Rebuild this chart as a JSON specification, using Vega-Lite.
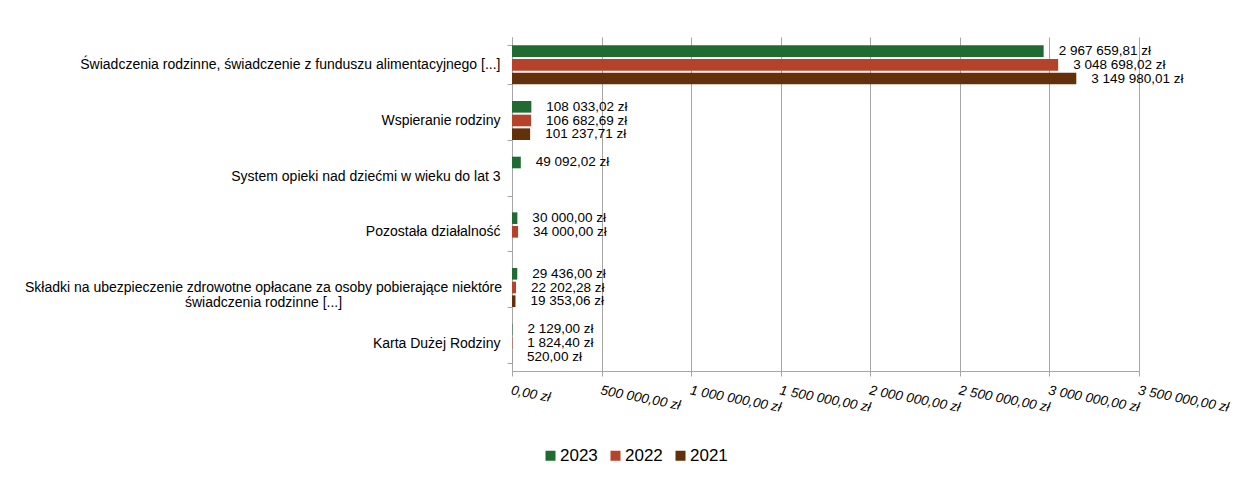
{
  "$schema": "https://vega.github.io/schema/vega-lite/v6.json",
  "width": 627,
  "height": 334,
  "autosize": {"type": "none"},
  "padding": {"left": 512, "top": 37, "right": 116, "bottom": 110},
  "config": {
    "locale": {"number": {"decimal": ",", "thousands": " ", "grouping": [3], "currency": ["", " zł"]}},
    "font": "Liberation Sans",
    "view": {"stroke": null},
    "text": {"font": "Liberation Sans"}
  },
  "data": {
    "values": [
      {"kategoria": "Świadczenia rodzinne, świadczenie z funduszu alimentacyjnego [...]", "rok": "2023", "wartosc": 2967659.81},
      {"kategoria": "Świadczenia rodzinne, świadczenie z funduszu alimentacyjnego [...]", "rok": "2022", "wartosc": 3048698.02},
      {"kategoria": "Świadczenia rodzinne, świadczenie z funduszu alimentacyjnego [...]", "rok": "2021", "wartosc": 3149980.01},
      {"kategoria": "Wspieranie rodziny", "rok": "2023", "wartosc": 108033.02},
      {"kategoria": "Wspieranie rodziny", "rok": "2022", "wartosc": 106682.69},
      {"kategoria": "Wspieranie rodziny", "rok": "2021", "wartosc": 101237.71},
      {"kategoria": "System opieki nad dziećmi w wieku do lat 3", "rok": "2023", "wartosc": 49092.02},
      {"kategoria": "Pozostała działalność", "rok": "2023", "wartosc": 30000.00},
      {"kategoria": "Pozostała działalność", "rok": "2022", "wartosc": 34000.00},
      {"kategoria": "Składki na ubezpieczenie zdrowotne opłacane za osoby pobierające niektóre świadczenia rodzinne [...]", "rok": "2023", "wartosc": 29436.00},
      {"kategoria": "Składki na ubezpieczenie zdrowotne opłacane za osoby pobierające niektóre świadczenia rodzinne [...]", "rok": "2022", "wartosc": 22202.28},
      {"kategoria": "Składki na ubezpieczenie zdrowotne opłacane za osoby pobierające niektóre świadczenia rodzinne [...]", "rok": "2021", "wartosc": 19353.06},
      {"kategoria": "Karta Dużej Rodziny", "rok": "2023", "wartosc": 2129.00},
      {"kategoria": "Karta Dużej Rodziny", "rok": "2022", "wartosc": 1824.40},
      {"kategoria": "Karta Dużej Rodziny", "rok": "2021", "wartosc": 520.00}
    ]
  },
  "encoding": {
    "y": {
      "field": "kategoria",
      "type": "nominal",
      "sort": null,
      "scale": {"paddingInner": 0.3, "paddingOuter": 0.15},
      "axis": {
        "title": null,
        "domainColor": "#a6a6a6",
        "tickColor": "#a6a6a6",
        "tickSize": 5,
        "tickBand": "extent",
        "labelFontSize": 14,
        "labelColor": "#000000",
        "labelLimit": 0,
        "labelLineHeight": 15,
        "labelExpr": "datum.label == 'Składki na ubezpieczenie zdrowotne opłacane za osoby pobierające niektóre świadczenia rodzinne [...]' ? ['Składki na ubezpieczenie zdrowotne opłacane za osoby pobierające niektóre', 'świadczenia rodzinne [...]'] : datum.label",
        "labelAlign": {"condition": {"test": "indexof(datum.label, 'Składki') == 0", "value": "center"}, "value": "right"},
        "labelPadding": {"condition": {"test": "indexof(datum.label, 'Składki') == 0", "value": 244}, "value": 7},
        "grid": false
      }
    },
    "yOffset": {
      "field": "rok",
      "type": "nominal",
      "sort": ["2023", "2022", "2021"],
      "scale": {"paddingInner": 0.15}
    },
    "x": {
      "field": "wartosc",
      "type": "quantitative",
      "scale": {"domain": [0, 3500000], "nice": false},
      "axis": {
        "title": null,
        "grid": true,
        "gridColor": "#a6a6a6",
        "domainColor": "#a6a6a6",
        "tickColor": "#a6a6a6",
        "tickSize": 5,
        "values": [0, 500000, 1000000, 1500000, 2000000, 2500000, 3000000, 3500000],
        "format": "$,.2f",
        "labelAngle": 11,
        "labelAlign": "left",
        "labelBaseline": "top",
        "labelFontStyle": "italic",
        "labelFontSize": 13.5,
        "labelColor": "#000000",
        "labelPadding": 7,
        "labelFlush": false,
        "labelOverlap": false,
        "labelBound": false
      }
    }
  },
  "layer": [
    {
      "mark": {"type": "bar"},
      "encoding": {
        "color": {
          "field": "rok",
          "type": "nominal",
          "scale": {"domain": ["2023", "2022", "2021"], "range": ["#1f6b31", "#b4432a", "#62300a"]},
          "legend": {
            "orient": "none",
            "legendX": 30,
            "legendY": 410,
            "direction": "horizontal",
            "title": null,
            "symbolType": "square",
            "symbolSize": 100,
            "symbolStrokeWidth": 0,
            "labelFontSize": 17,
            "labelColor": "#000000",
            "columnPadding": 9,
            "labelOffset": 1
          }
        }
      }
    },
    {
      "mark": {"type": "text", "align": "left", "baseline": "middle", "dx": 15, "fontSize": 13.5, "color": "#000000"},
      "encoding": {
        "text": {"field": "wartosc", "type": "quantitative", "format": "$,.2f"}
      }
    }
  ]
}
